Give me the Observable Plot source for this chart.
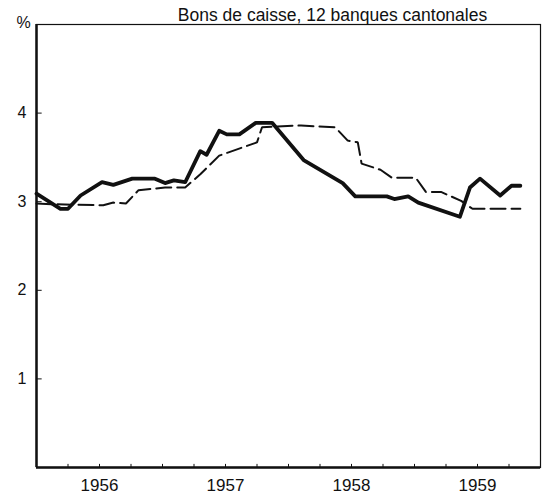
<!DOCTYPE html>
<html><head><meta charset="utf-8">
<script src="https://cdn.jsdelivr.net/npm/d3@7"></script>
<script src="https://cdn.jsdelivr.net/npm/@observablehq/plot@0.6"></script>
<style>body{margin:0;background:#fff;} #chart svg{display:block;}</style>
</head><body><div id="chart"></div>
<script>
const title = "Bons de caisse, 12 banques cantonales";
const yUnit = "%";
const yearTicks = [1956, 1957, 1958, 1959];
const quarterTicks = [1955.75, 1956, 1956.25, 1956.5, 1956.75, 1957, 1957.25, 1957.5, 1957.75, 1958, 1958.25, 1958.5, 1958.75, 1959, 1959.25];
const yTicks = [1, 2, 3, 4];

// Solid line (thick)
const solidT = [1955.50, 1955.69, 1955.75, 1955.85, 1956.02, 1956.11, 1956.26, 1956.44, 1956.52, 1956.59, 1956.68, 1956.80, 1956.85, 1956.95, 1957.01, 1957.11, 1957.24, 1957.37, 1957.62, 1957.93, 1958.03, 1958.28, 1958.34, 1958.45, 1958.53, 1958.86, 1958.94, 1959.02, 1959.18, 1959.27, 1959.34];
const solidV = [3.09, 2.92, 2.92, 3.07, 3.22, 3.19, 3.26, 3.26, 3.21, 3.24, 3.22, 3.57, 3.53, 3.80, 3.76, 3.76, 3.89, 3.89, 3.47, 3.21, 3.06, 3.06, 3.03, 3.06, 2.99, 2.83, 3.16, 3.26, 3.07, 3.18, 3.18];

// Dashed line
const dashedT = [1955.50, 1955.66, 1956.03, 1956.11, 1956.21, 1956.31, 1956.52, 1956.68, 1956.80, 1956.95, 1957.25, 1957.29, 1957.41, 1957.60, 1957.87, 1957.97, 1958.05, 1958.08, 1958.23, 1958.32, 1958.51, 1958.59, 1958.71, 1958.87, 1958.96, 1959.34];
const dashedV = [2.98, 2.97, 2.96, 2.99, 2.98, 3.13, 3.16, 3.16, 3.31, 3.52, 3.67, 3.84, 3.85, 3.86, 3.84, 3.69, 3.67, 3.43, 3.36, 3.27, 3.27, 3.11, 3.11, 3.01, 2.92, 2.92];

const solid = solidT.map((t, i) => ({t, v: solidV[i]}));
const dashed = dashedT.map((t, i) => ({t, v: dashedV[i]}));

const font = "Liberation Sans, Arial, sans-serif";
const x0 = 1955.5, x1 = 1959.5;

const chart = Plot.plot({
  width: 543,
  height: 494,
  marginLeft: 36,
  marginRight: 3,
  marginTop: 24,
  marginBottom: 27,
  style: {fontFamily: font, background: "#fff", color: "#111"},
  x: {type: "linear", domain: [x0, x1], label: null},
  y: {type: "linear", domain: [0, 5], label: null},
  marks: [
    Plot.frame({stroke: "#111", strokeWidth: 1.2}),
    Plot.ruleX([x0], {stroke: "#111", strokeWidth: 2.5}),
    Plot.ruleY([0], {stroke: "#111", strokeWidth: 2.5}),
    Plot.ruleX(quarterTicks, {y1: 0, y2: 0.035, stroke: "#111", strokeWidth: 1}),
    Plot.ruleY(yTicks, {x1: x0, x2: x0 + 0.045, stroke: "#111", strokeWidth: 1}),
    Plot.axisX(yearTicks, {tickSize: 0, tickPadding: 11, fontSize: 17, tickFormat: "d", fill: "#111", label: null}),
    Plot.axisY(yTicks, {tickSize: 0, tickPadding: 10, fontSize: 16, tickFormat: "d", fill: "#111", label: null}),
    Plot.line(dashed, {x: "t", y: "v", stroke: "#111", strokeWidth: 2, strokeDasharray: "15,6", strokeLinejoin: "miter"}),
    Plot.line(solid, {x: "t", y: "v", stroke: "#111", strokeWidth: 3.8, strokeLinejoin: "round"}),
    Plot.text([title], {frameAnchor: "top", dx: 44, dy: -16, fontSize: 17.5, fill: "#111"}),
    Plot.text([yUnit], {frameAnchor: "top-left", dx: -20, dy: -8, fontSize: 16, fill: "#111"})
  ]
});
document.getElementById("chart").appendChild(chart);
</script>
</body></html>
